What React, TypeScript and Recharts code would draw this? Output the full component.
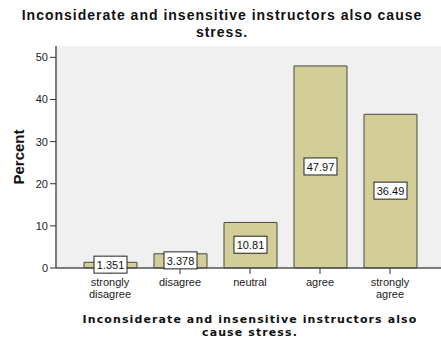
import { BarChart, Bar, XAxis, YAxis, LabelList } from 'recharts';

/* ---- data ---- */
const categories = ['strongly disagree', 'disagree', 'neutral', 'agree', 'strongly agree'];
const percents = [1.351, 3.378, 10.81, 47.97, 36.49];
const yTicks = [0, 10, 20, 30, 40, 50];

const title = ['Inconsiderate and insensitive instructors also cause', 'stress.'];
const xTitle = ['Inconsiderate and insensitive instructors also', 'cause stress.'];

const data = categories.map((name, i) => ({ name, value: percents[i] }));

const FONT = '"Liberation Sans", Arial, sans-serif';
const BAR_FILL = '#d3ce98';
const BAR_STROKE = '#4a4a40';

/* two-line category tick */
function CategoryTick({ x, y, payload }: any) {
  const words: string[] = payload.value.split(' ');
  const lines = words.length > 1 ? [words[0], words.slice(1).join(' ')] : words;
  return (
    <text x={x} y={y + 10} textAnchor="middle" fontFamily={FONT} fontSize={11} fill="#222">
      {lines.map((l, i) => (
        <tspan key={i} x={x} dy={i === 0 ? 0 : 12}>
          {l}
        </tspan>
      ))}
    </text>
  );
}

/* boxed value label in the middle of each bar */
function BoxLabel({ x, y, width, height, value }: any) {
  const cx = x + width / 2;
  const cy = y + height / 2;
  const txt = Number(value).toPrecision(4);
  const w = txt.length * 6 + 3;
  return (
    <g>
      <rect x={cx - w / 2} y={cy - 9} width={w} height={17} fill="#fff" stroke="#222" strokeWidth={1} />
      <text x={cx} y={cy + 4} textAnchor="middle" fontFamily={FONT} fontSize={11} fill="#111">
        {txt}
      </text>
    </g>
  );
}

export default function App() {
  return (
    <div style={{ position: 'absolute', left: 0, top: 0, width: 441, height: 344, background: '#fff' }}>
      <div
        style={{
          position: 'absolute',
          left: 0,
          top: 7,
          width: 444,
          textAlign: 'center',
          fontFamily: FONT,
          fontWeight: 'bold',
          fontSize: 14,
          lineHeight: '16.5px',
          letterSpacing: 1,
          color: '#111',
        }}
      >
        {title.map((t) => (
          <div key={t}>{t}</div>
        ))}
      </div>

      <div style={{ position: 'absolute', left: 0, top: 0 }}>
        <BarChart
          width={441}
          height={344}
          data={data}
          margin={{ top: 46, right: 0, bottom: 0, left: 0 }}
          barSize={53}
        >
          <rect x={56} y={46} width={385} height={222} fill="#f0f0f0" />
          <XAxis
            xAxisId="top"
            orientation="top"
            dataKey="name"
            height={0}
            tick={false}
            tickLine={false}
            axisLine={{ stroke: '#444', strokeWidth: 1.5 }}
            padding={{ left: 19, right: 16 }}
          />
          <XAxis
            dataKey="name"
            height={76}
            interval={0}
            tick={<CategoryTick />}
            tickSize={6}
            tickLine={{ stroke: '#333' }}
            axisLine={{ stroke: '#555', strokeWidth: 1.5 }}
            padding={{ left: 19, right: 16 }}
          />
          <YAxis
            width={56}
            domain={[0, 52.7]}
            ticks={yTicks}
            tickSize={6}
            tickLine={{ stroke: '#333' }}
            axisLine={{ stroke: '#555', strokeWidth: 1.5 }}
            tick={{ fontFamily: FONT, fontSize: 11, fill: '#222' }}
          />
          <Bar dataKey="value" fill={BAR_FILL} stroke={BAR_STROKE} strokeWidth={1} isAnimationActive={false}>
            <LabelList dataKey="value" content={<BoxLabel />} />
          </Bar>
        </BarChart>
      </div>

      <div
        style={{
          position: 'absolute',
          left: 18,
          top: 157,
          transform: 'translate(-50%, -50%) rotate(-90deg)',
          fontFamily: FONT,
          fontWeight: 'bold',
          fontSize: 15,
          lineHeight: '15px',
          color: '#111',
          whiteSpace: 'nowrap',
        }}
      >
        Percent
      </div>

      <div
        style={{
          position: 'absolute',
          left: 60,
          top: 313,
          width: 380,
          textAlign: 'center',
          fontFamily: '"DejaVu Sans", sans-serif',
          fontWeight: 'bold',
          fontSize: 11,
          lineHeight: '13px',
          letterSpacing: 1.1,
          color: '#111',
        }}
      >
        {xTitle.map((t) => (
          <div key={t}>{t}</div>
        ))}
      </div>
    </div>
  );
}
